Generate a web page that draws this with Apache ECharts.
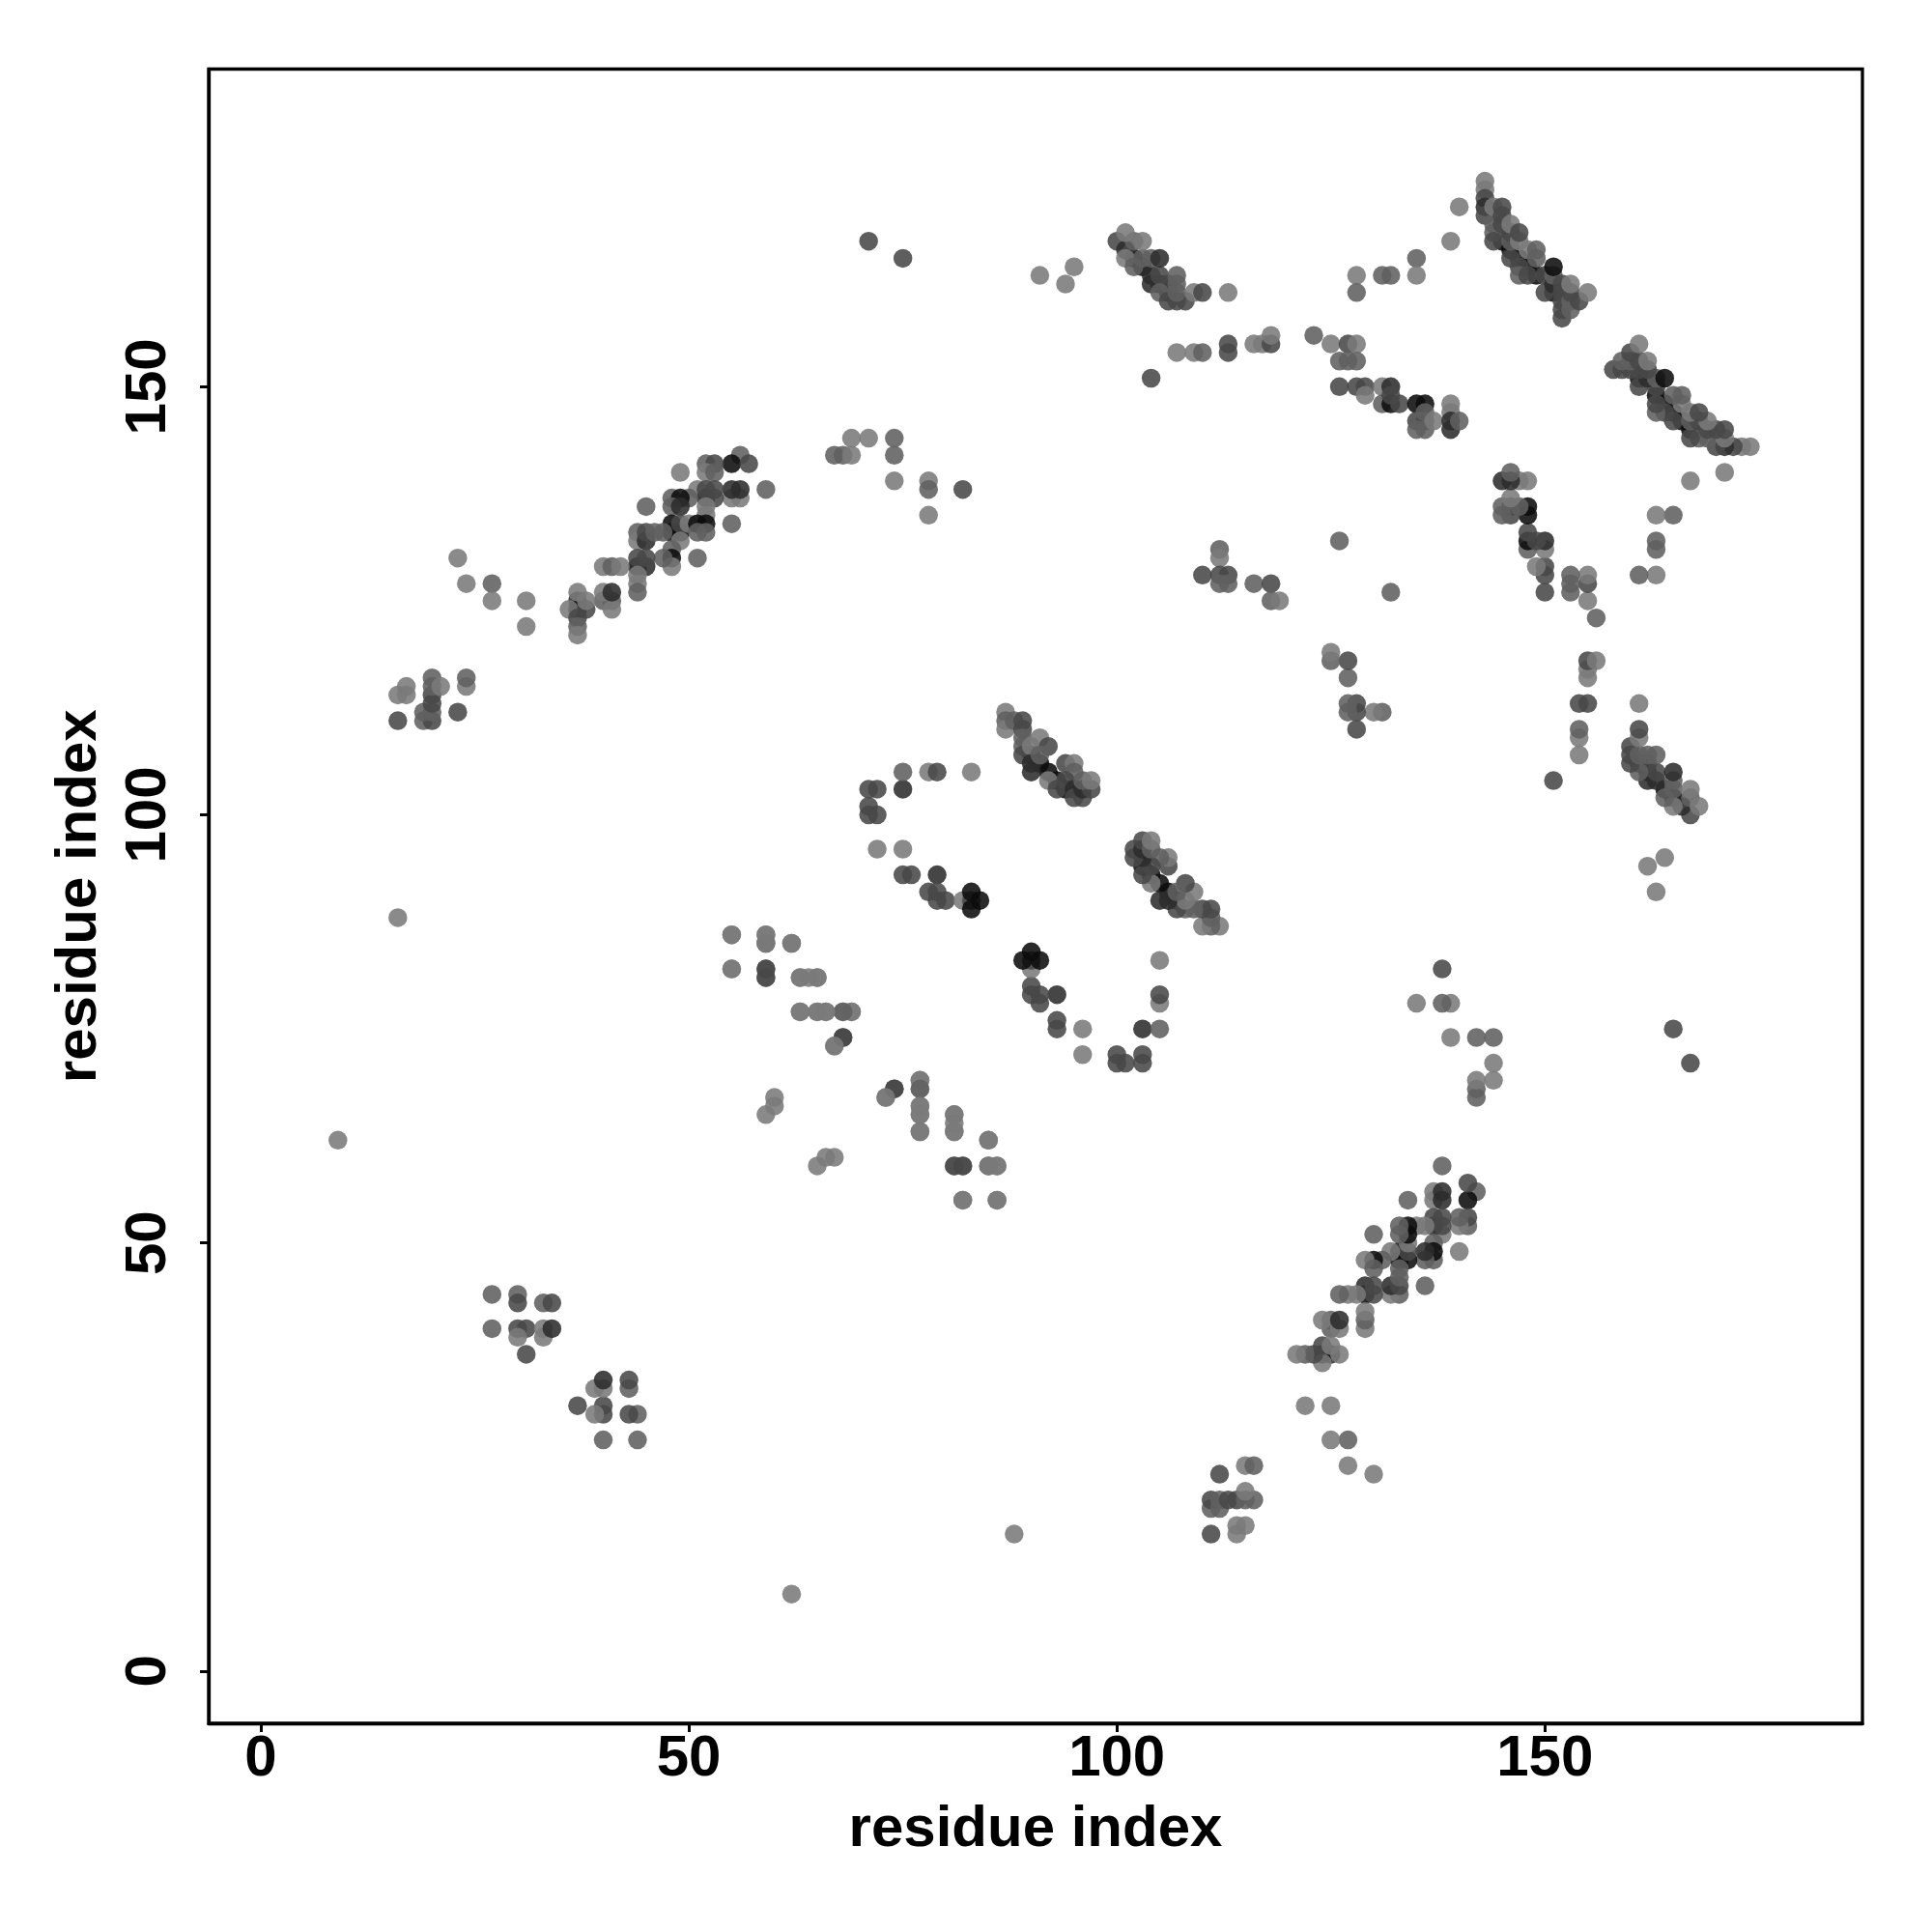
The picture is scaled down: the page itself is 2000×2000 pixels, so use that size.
<!DOCTYPE html>
<html><head><meta charset="utf-8">
<style>html,body{margin:0;padding:0;background:#fff}#c{width:2000px;height:2000px}</style>
<script src="https://cdn.jsdelivr.net/npm/echarts@6/dist/echarts.min.js"></script></head>
<body><div id="c"></div>
<script>
// Each contact is [residue i, residue j, darkness level]; the map shows it at (i,j) and (j,i).
const singles = [[9,62,1],[16,88,1],[71,167,3],[75,165,3],[91,163,1],[94,162,1],[95,164,1],[104,151,3],[126,132,2],[140,171,1],[139,167,1],[135,165,2],[135,163,1],[128,163,1],[128,161,2],[131,163,2],[132,163,2]];
const groupA = [[16,111,3],[16,114,1],[17,115,1],[17,114,1],[19,111,2],[20,111,3],[19,112,2],[20,112,2],[20,113,3],[20,114,3],[20,115,2],[20,116,2],[21,115,1],[23,112,3],[24,115,1],[24,116,2],[23,130,1],[24,127,1],[27,127,2],[27,125,1],[31,125,1],[31,122,1]];
const strandA = [[56,142,2],[55,141,5],[57,141,3],[49,140,1],[52,141,2],[53,141,3],[52,140,1],[53,140,2],[59,138,2],[55,137,1],[56,137,1],[55,138,4],[56,138,4],[51,138,1],[52,137,4],[53,137,3],[52,138,3],[53,138,3],[50,137,2],[48,137,2],[49,137,5],[48,136,2],[49,136,4],[45,136,2],[52,136,1],[52,135,1],[55,134,2],[48,134,5],[48,133,5],[49,133,5],[49,134,3],[49,132,1],[50,134,1],[51,134,5],[52,134,5],[51,133,2],[52,133,2],[48,131,2],[48,130,5],[48,129,1],[47,130,2],[51,130,2],[44,133,2],[44,132,1],[45,132,4],[45,133,3],[46,133,2],[47,133,2],[44,129,5],[45,129,4],[44,130,3],[45,130,3],[44,128,1],[44,127,1],[44,126,2],[40,129,1],[41,129,2],[42,129,1],[40,125,2],[41,125,2],[41,124,1],[40,126,1],[41,126,4],[37,125,4],[37,124,5],[36,124,1],[37,123,3],[37,122,2],[37,121,1],[38,124,3],[37,126,1],[38,125,1]];
const groupB = [[67,142,2],[68,142,2],[69,142,1],[69,144,1],[71,144,1],[74,144,2],[74,142,2],[74,139,1],[78,139,1],[78,138,2],[82,138,3],[78,135,1],[27,44,2],[27,40,2],[30,44,2],[30,43,3],[33,43,2],[34,43,3],[30,40,3],[31,40,3],[30,39,1],[31,37,3],[33,39,1],[33,40,1],[34,40,4]];
const groupC = [[55,86,1],[55,82,1],[59,86,1],[59,85,2],[59,82,2],[59,81,1],[62,85,1],[63,81,1],[64,81,1],[65,81,1],[63,77,1],[65,77,1],[66,77,1],[68,77,1],[69,77,1],[67,73,1],[68,74,3],[77,69,1],[77,68,2],[77,66,1],[77,65,1],[77,63,1],[74,68,3],[73,67,1],[81,65,1],[81,63,1],[81,59,3],[82,59,3],[85,59,1],[86,59,1],[85,62,1],[82,55,1],[86,55,1],[59,65,1],[60,66,1],[60,67,1]];
const groupI = [[110,128,3],[112,131,2],[112,130,1],[112,128,3],[113,128,3],[112,127,2],[113,127,2],[116,127,2],[118,127,3],[118,125,2],[119,125,1]];
const loopD = [[71,103,3],[72,103,3],[75,103,4],[71,101,3],[71,100,3],[72,100,3],[75,105,2],[78,105,1],[79,105,3],[83,105,1],[72,96,1],[75,96,1],[75,93,3],[76,93,3],[79,93,4],[78,91,3],[79,91,3],[79,90,3],[80,90,3],[82,90,1],[83,90,3],[83,91,5],[84,90,5],[83,89,5]];
const strandE = [[90,107,5],[91,106,5],[92,105,5],[93,104,5],[94,103,5],[87,112,1],[87,111,2],[87,110,1],[88,111,2],[89,111,3],[89,110,3],[89,109,2],[89,108,2],[89,107,3],[90,108,1],[90,106,4],[90,105,4],[91,109,1],[92,108,3],[91,107,2],[92,104,1],[93,103,3],[94,106,3],[95,106,1],[95,105,2],[94,104,3],[95,103,4],[95,102,3],[96,102,3],[96,103,4],[97,103,3],[96,104,2],[97,104,1]];
const strandF = [[102,165,5],[103,164,5],[105,162,5],[106,161,5],[100,167,3],[101,166,4],[101,165,1],[102,164,2],[102,167,2],[103,165,2],[104,163,4],[104,162,4],[105,163,3],[106,162,3],[105,161,2],[106,160,3],[107,160,3],[108,160,3],[107,163,2],[107,162,2],[107,161,2],[104,165,2],[105,165,4],[101,168,1],[103,167,1],[109,161,1],[110,161,3],[113,161,1]];
const stripG = [[107,154,1],[109,154,1],[110,154,2],[113,155,3],[113,154,3],[116,155,1],[117,155,1],[118,155,3],[118,156,1],[123,156,2],[125,155,1],[127,155,3],[128,155,1],[126,153,2],[127,153,2],[128,153,2],[126,150,3],[128,150,3],[129,150,3],[129,149,1],[131,150,1],[132,150,4],[131,148,2],[132,148,5],[132,149,3],[133,148,3],[135,148,5],[136,148,5],[135,146,3],[136,146,3],[135,145,2],[136,147,2],[136,145,2],[137,146,1],[139,148,1],[139,147,1],[139,146,4],[139,145,4],[140,146,2]];
const strandH = [[145,167,5],[146,166,5],[147,165,5],[148,164,5],[149,163,5],[151,161,5],[143,174,1],[143,173,1],[143,172,3],[143,171,4],[143,170,3],[144,169,2],[144,168,2],[144,167,3],[144,171,1],[145,171,3],[145,170,3],[145,169,3],[146,165,3],[146,167,2],[146,168,3],[146,169,1],[147,164,3],[147,163,2],[147,167,1],[147,168,3],[148,163,3],[148,166,1],[149,165,2],[149,166,2],[150,161,3],[150,163,3],[151,162,4],[151,163,2],[152,158,3],[152,159,3],[152,160,3],[152,161,3],[151,164,5],[152,162,3],[153,159,2],[153,160,2],[153,161,3],[154,160,3],[153,162,1],[155,161,1]];
const contacts = [singles, groupA, groupB, groupC, groupI, strandA, loopD, strandE, strandF, stripG, strandH];

const grayLevels = ['#7a7a7a','#606060','#484848','#2c2c2c','#0c0c0c'];
const xTicks = [0,50,100,150];
const yTicks = [0,50,100,150];
const axisName = 'residue index';
const axisMin = -6.1, axisMax = 187.1;

const points = [];
contacts.forEach(list => list.forEach(([i,j,s]) => {
  points.push({value:[i,j], itemStyle:{color:grayLevels[s-1]}});
  points.push({value:[j,i], itemStyle:{color:grayLevels[s-1]}});
}));
const fontFam = '"Liberation Sans", Arial, sans-serif';
const chart = echarts.init(document.getElementById('c'), null, {renderer:'canvas'});
function axis(ticks, gap, margin){
  return {type:'value', min:axisMin, max:axisMax, name:axisName, nameLocation:'middle', nameGap:gap,
    nameTextStyle:{fontFamily:fontFam,fontWeight:'bold',fontSize:60,color:'#000'},
    splitLine:{show:false},
    axisLine:{show:true,onZero:false,lineStyle:{color:'#000',width:3.3}},
    axisTick:{show:true,length:9,lineStyle:{color:'#000',width:3},customValues:ticks},
    axisLabel:{show:true,fontFamily:fontFam,fontWeight:'bold',fontSize:60,color:'#000',margin:margin,customValues:ticks,hideOverlap:false,showMinLabel:true,showMaxLabel:true}};
}
const yAx = axis(yTicks,104,32); yAx.axisLabel.rotate=90;
chart.setOption({
  animation:false, backgroundColor:'#fff',
  grid:{left:216,right:72,top:71.5,bottom:216,show:true,borderColor:'#000',borderWidth:3.3,backgroundColor:'transparent',containLabel:false},
  xAxis:axis(xTicks,80,7),
  yAxis:yAx,
  series:[{type:'scatter',symbol:'circle',symbolSize:19.5,data:points,itemStyle:{opacity:0.88},clip:true,silent:true,large:false}]
});
</script></body></html>
